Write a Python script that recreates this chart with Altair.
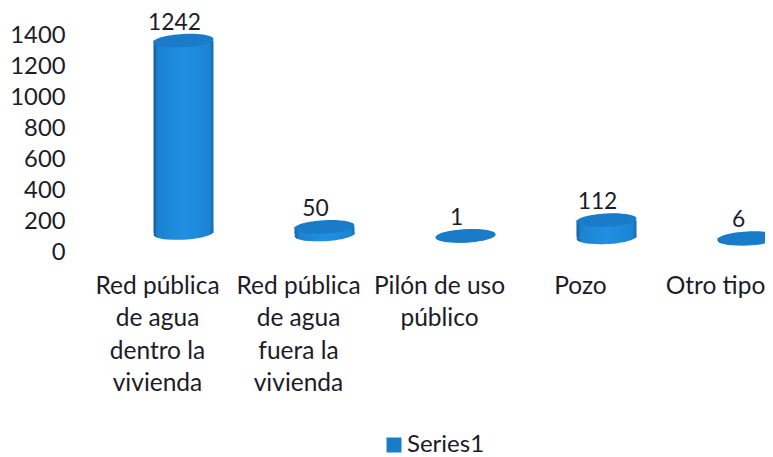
import altair as alt
import pandas as pd

categories = ["Red pública|de agua|dentro la|vivienda", "Red pública|de agua|fuera la|vivienda",
              "Pilón de uso|público", "Pozo", "Otro tipo"]
values = [1242, 50, 1, 112, 6]
series = ["Series1"] * 5
y_ticks = [0, 200, 400, 600, 800, 1000, 1200, 1400]

df = pd.DataFrame({"cat": categories, "val": values, "series": series, "idx": range(5)})

FONT = "Lato"
TXT = "#1c1c28"
ELL = "M-1,0A1,0.22,0,1,1,1,0A1,0.22,0,1,1,-1,0Z"
side = alt.Gradient(gradient="linear", x1=0, x2=1, y1=0, y2=0, stops=[
    alt.GradientStop(offset=0, color="#15599c"),
    alt.GradientStop(offset=0.07, color="#1b82d0"),
    alt.GradientStop(offset=0.5, color="#2090e2"),
    alt.GradientStop(offset=0.93, color="#1b84d4"),
    alt.GradientStop(offset=1, color="#166bb0"),
])

xenc = alt.X("cat:N", sort=categories, title=None,
             scale=alt.Scale(range=[0, 705], paddingInner=0, paddingOuter=0),
             axis=alt.Axis(labelExpr="split(datum.label, '|')", labelAngle=0, domain=False, ticks=False,
                           grid=False, labelFont=FONT, labelFontSize=24.5, labelColor=TXT,
                           labelPadding=22,
                           labelOffset={"condition": {"test": "datum.value == 'Otro tipo'", "value": -32}, "value": -26},
                           labelLimit=300, labelAlign="center",
                           labelLineHeight=32.5, labelOverlap=False))
yscale = alt.Scale(domain=[0, 1400], nice=False)
yaxis = alt.Axis(values=y_ticks, format="d", labelOverlap=False, domain=False, ticks=False,
                 grid=False, labelFont=FONT, labelFontSize=23.8, labelColor=TXT, labelPadding=48,
                 labelBound=False, labelFlush=False)

base = alt.Chart(df).transform_calculate(
    floor="122 - 9.5 * datum.idx", top="datum.floor + datum.val"
)

bottom = base.mark_point(shape=ELL, filled=True, size=3600, opacity=1, angle=357, fill=side, clip=False).encode(
    x=xenc, y=alt.Y("floor:Q", scale=yscale, title=None, axis=yaxis))
body = base.mark_bar(size=60, fill=side, clip=False).encode(
    x=xenc,
    y=alt.Y("top:Q", scale=yscale, title=None, axis=yaxis),
    y2="floor:Q")
top = base.mark_point(shape=ELL, filled=True, size=3600, opacity=1, angle=357, clip=False,
                      stroke="#16659f", strokeWidth=0.02).encode(
    x=xenc, y=alt.Y("top:Q", scale=yscale, title=None, axis=yaxis),
    color=alt.Color("series:N", scale=alt.Scale(domain=["Series1"], range=["#1a7cc8"]), title=None,
                    legend=alt.Legend(orient="none", legendX=269, legendY=398, symbolType="square",
                                      symbolSize=225, labelFont=FONT, labelFontSize=24, labelColor=TXT,
                                      symbolStrokeWidth=0, labelOffset=1, padding=0)))
labels = base.mark_text(font=FONT, fontSize=22.8, color=TXT, dy=-18, dx=-9).encode(
    x=xenc, y=alt.Y("top:Q", scale=yscale, title=None, axis=yaxis), text="val:Q")

chart = (bottom + body + top + labels).properties(
    width=652, height=217,
    padding={"left": 105, "top": 27, "right": 0, "bottom": 205},
    autosize=alt.AutoSizeParams(type="none"),
    background="white",
).configure_view(stroke=None)

chart.save("out.html", embed_options={"renderer": "svg", "actions": False})
